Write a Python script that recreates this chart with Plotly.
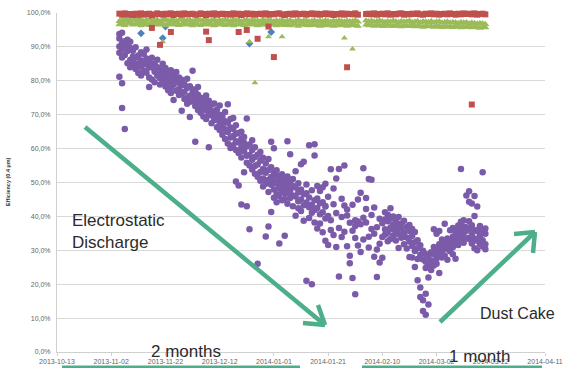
import pandas as pd
import plotly.graph_objects as go

# ---------------- data ----------------
origin = "2013-10-13"
first_day = 23  # days after origin of first daily value (2013-11-05)

red_daily = [
    99.8, 99.5, 99.9, 99.6, 99.7, 99.4, 99.8, 99.6, 99.9, 99.5,
    99.7, 99.8, 99.3, 99.6, 99.9, 99.7, 99.5, 99.8, 99.6, 99.9,
    99.4, 99.7, 99.8, 99.5, 99.9, 99.6, 99.7, 99.8, 99.5, 99.6,
    99.9, 99.7, 99.4, 99.8, 99.6, 99.9, 99.5, 99.7, 99.8, 99.6,
    99.7, 99.5, 99.9, 99.6, 99.8, 99.4, 99.7, 99.9, 99.6, 99.8,
    99.5, 99.7, 99.8, 99.6, 99.9, 99.5, 99.7, 99.6, 99.8, 99.9,
    99.6, 99.4, 99.7, 99.8, 99.5, 99.9, 99.6, 99.7, 99.8, 99.5,
    99.7, 99.9, 99.6, 99.8, 99.5, 99.7, 99.9, 99.6, 99.8, 99.4,
    99.7, 99.6, 99.9, 99.5, 99.8, 99.7, 99.6, 99.9, 99.5, None,
    None, 99.7, 99.8, 99.6, 99.9, 99.5, 99.7, 99.8, 99.6, 99.9,
    99.5, 99.7, 99.6, 99.8, 99.9, 99.5, 99.7, 99.6, 99.8, 99.7,
    99.9, 99.6, 99.5, 99.8, 99.7, 99.9, 99.6, 99.8, 99.5, 99.7,
    99.8, 99.6, 99.9, 99.7, 99.5, 99.8, 99.6, 99.9, 99.7, 99.8,
    99.6, 99.9, 99.5, 99.7, 99.8, 99.6,
]

green_daily_hi = [
    97.6, 98.0, 97.8, 98.2, 97.5, 97.9, 98.1, 97.7, 98.0, 97.6,
    97.9, 98.2, 97.6, 97.8, 98.0, 97.5, 97.9, 98.1, 97.7, 97.8,
    98.0, 97.6, 97.9, 98.2, 97.7, 97.8, 98.0, 97.5, 97.9, 98.1,
    97.7, 97.9, 98.0, 97.6, 97.8, 98.1, 97.5, 97.9, 97.7, 98.0,
    97.8, 97.6, 98.0, 97.7, 97.9, 97.5, 97.8, 98.0, 97.6, 97.9,
    97.7, 97.8, 97.5, 98.0, 97.6, 97.9, 97.7, 97.5, 97.8, 97.6,
    97.9, 97.5, 97.7, 97.8, 97.4, 97.6, 97.9, 97.5, 97.7, 97.8,
    97.5, 97.6, 97.8, 97.4, 97.7, 97.5, 97.8, 97.6, 97.4, 97.7,
    97.5, 97.8, 97.6, 97.4, 97.7, 97.5, 97.6, 97.8, 97.4, None,
    None, 97.8, 97.5, 97.7, 97.4, 97.6, 97.8, 97.5, 97.3, 97.6,
    97.4, 97.7, 97.5, 97.3, 97.6, 97.4, 97.5, 97.7, 97.3, 97.4,
    97.6, 97.2, 97.5, 97.4, 97.3, 97.6, 97.2, 97.4, 97.5, 97.1,
    97.3, 97.4, 97.1, 97.3, 97.2, 97.0, 97.3, 97.1, 97.2, 96.9,
    97.1, 97.0, 96.8, 97.0, 96.9, 96.7,
]

green_daily_lo = [
    96.6, 96.9, 96.4, 96.8, 97.0, 96.5, 96.7, 96.9, 96.3, 96.6,
    96.8, 96.4, 96.7, 96.9, 96.5, 96.6, 96.8, 96.3, 96.7, 96.9,
    96.5, 96.8, 96.4, 96.6, 96.9, 96.5, 96.7, 96.3, 96.8, 96.6,
    96.4, 96.7, 96.9, 96.5, 96.6, 96.3, 96.8, 96.5, 96.7, 96.4,
    96.6, 96.8, 96.3, 96.7, 96.5, 96.9, 96.4, 96.6, 96.8, 96.5,
    96.7, 96.3, 96.6, 96.5, 96.8, 96.4, 96.6, 96.7, 96.3, 96.5,
    96.6, 96.4, 96.7, 96.3, 96.5, 96.6, 96.2, 96.5, 96.7, 96.4,
    96.3, 96.6, 96.4, 96.5, 96.2, 96.6, 96.3, 96.5, 96.4, 96.2,
    96.5, 96.3, 96.4, 96.6, 96.2, 96.4, 96.5, 96.3, 96.2, None,
    None, 96.5, 96.3, 96.4, 96.2, 96.5, 96.3, 96.1, 96.4, 96.2,
    96.3, 96.1, 96.4, 96.2, 96.0, 96.3, 96.2, 96.1, 96.3, 96.0,
    96.2, 96.1, 95.9, 96.2, 96.0, 96.1, 95.9, 96.2, 96.0, 95.8,
    96.1, 95.9, 96.0, 95.8, 96.1, 95.9, 95.7, 96.0, 95.8, 95.9,
    95.7, 95.9, 95.8, 95.6, 95.8, 95.7,
]

# purple readings, one list per day starting at first_day
purple_daily = [
    [92.5, 90.1, 88.3, 81.2, 93.8], [94.2, 89.4, 86.9, 79.3, 72.0, 91.0], [91.7, 87.6, 90.4, 65.8],
    [90.3, 88.8, 85.2, 92.1], [89.7, 86.1, 91.5, 84.0], [88.9, 85.4, 87.2],
    [86.8, 89.9, 83.5, 84.7], [87.5, 85.0, 82.3], [88.4, 84.1, 86.0, 81.6],
    [85.3, 87.9, 83.0], [86.6, 82.4, 84.8, 89.2], [83.9, 81.0, 85.7, 78.2],
    [84.5, 86.8, 80.4], [82.7, 85.1, 79.6, 83.3], [84.0, 81.5, 86.2],
    [80.8, 83.6, 78.9, 82.0], [82.9, 79.7, 85.0], [81.4, 78.3, 83.8, 80.1],
    [79.5, 82.5, 77.2], [80.9, 78.0, 83.1, 76.4], [78.8, 81.7, 74.3, 79.9],
    [80.2, 77.1, 82.6], [77.6, 79.4, 75.8, 81.0], [78.7, 76.2, 71.2, 80.3],
    [76.8, 79.0, 74.6], [77.9, 75.1, 73.2, 80.6], [75.6, 78.4, 69.3, 73.8],
    [76.3, 74.0, 83.0, 77.5], [74.7, 72.6, 76.9, 62.0], [75.9, 73.5, 71.4, 78.2],
    [72.8, 75.0, 70.6], [74.2, 71.9, 73.4, 69.5], [71.3, 73.9, 68.7, 75.7],
    [72.5, 70.2, 74.1, 60.4], [69.8, 72.9, 67.5, 71.1], [70.9, 68.4, 73.3],
    [68.6, 71.5, 66.3, 69.9], [70.0, 67.2, 72.7, 65.5], [66.9, 69.4, 64.1, 68.3],
    [68.1, 65.7, 70.8, 62.8], [64.9, 67.6, 61.5, 73.1], [66.2, 63.3, 68.7, 60.2],
    [63.7, 65.8, 61.0, 69.0], [64.4, 62.2, 50.3, 66.9, 59.6], [61.8, 64.6, 49.1, 58.7],
    [62.9, 60.3, 43.5, 57.4, 65.0], [59.2, 61.7, 53.0, 63.4], [60.6, 57.9, 68.9, 43.0, 55.8],
    [58.1, 61.2, 36.2, 55.0], [56.7, 59.6, 53.8, 62.5], [57.5, 54.9, 60.4, 52.6],
    [55.3, 58.2, 26.0, 51.7], [56.4, 53.1, 59.0, 50.5], [54.0, 57.3, 51.2, 48.8],
    [52.9, 55.6, 34.1, 49.6], [53.7, 50.8, 37.0, 56.9, 47.2], [51.6, 49.3, 62.0, 41.3, 54.5],
    [50.4, 52.8, 60.1, 47.9, 45.5], [49.7, 52.0, 46.6, 53.6, 44.2], [48.4, 51.3, 32.0, 46.0, 50.0],
    [50.9, 47.3, 44.8, 49.2, 52.4], [48.0, 50.6, 34.3, 46.9, 45.1], [49.5, 47.0, 62.2, 51.8, 43.7],
    [47.6, 45.4, 58.3, 50.2, 48.9], [49.0, 46.2, 43.0, 51.0], [45.9, 48.5, 40.2, 53.3],
    [47.1, 44.5, 42.4, 49.8], [45.0, 47.9, 55.4, 41.6], [46.5, 43.3, 56.1, 38.7],
    [44.1, 46.8, 49.4, 21.0], [45.6, 42.7, 61.0, 39.5], [43.4, 47.7, 20.0, 41.1],
    [44.8, 41.9, 58.0, 61.3, 38.2], [42.5, 45.3, 49.0, 36.4], [43.9, 40.6, 47.5, 37.9],
    [41.2, 44.2, 35.3, 48.6], [42.9, 39.4, 49.6, 43.1, 32.8], [40.1, 45.8, 31.6],
    [38.9, 36.0, 53.9], [43.6, 48.2, 34.5], [41.0, 51.2, 31.0],
    [36.6, 54.0, 22.3], [39.8, 45.2, 33.9], [35.5, 43.2, 55.0],
    [40.3, 31.2, 42.0], [38.1, 28.4, 26.2], [35.8, 21.8, 43.4],
    [37.2, 17.0, 38.9, 33.6], [38.5, 31.4, 45.0], [37.7, 47.0, 29.5],
    [33.2, 54.2, 39.6], [38.2, 45.4, 42.2], [34.0, 30.8, 51.0],
    [36.3, 50.8, 40.4], [34.9, 28.1, 42.6], [36.8, 22.1, 30.2],
    [31.9, 26.4, 39.3], [33.9, 38.0, 27.8], [36.2, 39.1, 41.2, 34.6],
    [38.6, 35.2, 32.7, 40.5], [39.4, 36.7, 42.4, 33.3], [37.6, 34.3, 40.0, 36.1],
    [35.9, 38.4, 32.9, 35.0], [37.3, 34.8, 30.7, 39.8], [36.4, 33.7, 37.9],
    [35.2, 38.7, 31.8, 34.1], [33.8, 36.9, 30.5], [35.7, 32.6, 37.5, 28.0],
    [34.2, 31.3, 27.9, 36.3], [32.4, 29.8, 25.1, 35.4], [30.6, 33.0, 21.2, 27.4],
    [28.7, 31.5, 19.0, 16.2], [27.3, 29.9, 15.3, 12.1], [26.6, 24.8, 17.2, 11.0, 28.9],
    [28.2, 25.7, 22.0, 14.0], [26.1, 29.4, 24.2, 27.0], [28.8, 25.5, 31.0, 36.2],
    [30.2, 27.6, 34.9, 26.0], [29.1, 31.8, 23.3, 35.7], [27.9, 30.7, 33.2, 29.6],
    [31.9, 28.5, 37.8, 30.9], [30.4, 33.5, 27.2, 32.1], [32.7, 29.7, 35.9, 31.2],
    [34.0, 30.9, 28.8, 36.6], [32.3, 35.1, 27.5, 33.6], [34.7, 31.6, 37.3, 36.0],
    [36.5, 33.1, 38.4, 54.0, 34.2], [35.3, 32.2, 37.0, 38.9], [33.7, 36.8, 46.2, 35.8],
    [36.1, 33.3, 47.4, 38.6, 44.3], [34.6, 37.4, 43.8, 32.0], [33.5, 36.0, 46.0, 40.1, 30.6],
    [35.6, 32.8, 42.9, 30.0], [34.3, 37.2, 31.7, 36.9], [33.0, 35.9, 53.0, 31.1],
    [31.8, 34.9, 36.4, 30.3],
]

red_out_days = [35, 38, 42, 55, 56, 67, 70, 74, 78, 80, 107, 153]
red_out_vals = [95.6, 90.6, 94.4, 94.5, 92.0, 94.4, 95.0, 92.4, 96.0, 87.0, 84.0, 73.0]

green_out_days = [39, 71, 73, 78, 83, 106, 109]
green_out_vals = [91.5, 91.5, 79.4, 93.0, 93.0, 92.6, 89.4]

blue_days = [24, 26, 30, 31, 39, 40, 71, 79]
blue_vals = [97.5, 98.2, 98.5, 94.0, 92.6, 96.0, 91.0, 94.4]

x_ticks_start = "2013-10-13"
x_range = ["2013-10-13", "2014-04-11"]
y_ticks = [0, 10, 20, 30, 40, 50, 60, 70, 80, 90, 100]
y_tick_labels = ["0,0%", "10,0%", "20,0%", "30,0%", "40,0%", "50,0%",
                 "60,0%", "70,0%", "80,0%", "90,0%", "100,0%"]

# --------------- helpers ---------------
t0 = pd.Timestamp(origin)


def day_to_date(d):
    return t0 + pd.Timedelta(days=d)


daily_dates = [day_to_date(first_day + i) for i in range(len(red_daily))]

px_, py_ = [], []
for i, vals in enumerate(purple_daily):
    for v in vals:
        px_.append(day_to_date(first_day + i))
        py_.append(v)

RED = "#C0504D"
GREEN = "#9BBB59"
BLUE = "#4F81BD"
PURPLE = "#7B5BA9"
ARROW = "#4DAF8A"

fig = go.Figure()
fig.add_trace(go.Scatter(x=[day_to_date(d) for d in blue_days], y=blue_vals, mode="markers",
                         marker=dict(symbol="diamond", size=6, color=BLUE), cliponaxis=False))
fig.add_trace(go.Scatter(x=daily_dates, y=green_daily_hi, mode="markers",
                         marker=dict(symbol="triangle-up", size=7, color=GREEN), cliponaxis=False))
fig.add_trace(go.Scatter(x=daily_dates, y=green_daily_lo, mode="markers",
                         marker=dict(symbol="triangle-up", size=7, color=GREEN), cliponaxis=False))
fig.add_trace(go.Scatter(x=[day_to_date(d) for d in green_out_days], y=green_out_vals, mode="markers",
                         marker=dict(symbol="triangle-up", size=6, color=GREEN), cliponaxis=False))
fig.add_trace(go.Scatter(x=daily_dates, y=red_daily, mode="markers",
                         marker=dict(symbol="square", size=6, color=RED), cliponaxis=False))
fig.add_trace(go.Scatter(x=[day_to_date(d) for d in red_out_days], y=red_out_vals, mode="markers",
                         marker=dict(symbol="square", size=6, color=RED), cliponaxis=False))
fig.add_trace(go.Scatter(x=px_, y=py_, mode="markers",
                         marker=dict(symbol="circle", size=6.5, color=PURPLE), cliponaxis=False))

# plot area in pixels
L, R, T, B = 57, 545, 13, 352
W, H = 565, 368


def P(x, y):
    return (x - L) / (R - L), (B - y) / (B - T)


shapes = []


def seg(x0, y0, x1, y1, w=4):
    a, b = P(x0, y0)
    c, d = P(x1, y1)
    shapes.append(dict(type="line", xref="paper", yref="paper", x0=a, y0=b, x1=c, y1=d,
                       line=dict(color=ARROW, width=w)))


# arrow 1 (down-right)
seg(85, 127, 325, 325, 4.5)
seg(325, 325, 303, 323, 4.5)
seg(325, 325, 318, 305, 4.5)
# arrow 2 (up-right)
seg(440, 322, 535, 232, 4.5)
seg(535, 232, 514, 234, 4.5)
seg(535, 232, 533, 253, 4.5)
# bottom duration lines (cut off)
seg(62, 367, 300, 367, 3)
seg(362, 367, 542, 367, 3)

annotations = []


def text(x, y, s, size, xanchor="left", yanchor="middle", color="#2b2b2b", align="left",
         family="Liberation Sans, Arial"):
    a, b = P(x, y)
    annotations.append(dict(xref="paper", yref="paper", x=a, y=b, text=s, showarrow=False,
                            xanchor=xanchor, yanchor=yanchor, align=align,
                            font=dict(size=size, color=color, family=family)))


text(70, 231, "Electrostatic<br>Discharge", 17, family="Liberation Sans Narrow, Liberation Sans, Arial")
text(557, 313, "Dust Cake", 16, xanchor="right")
text(149, 351, "2 months", 17)
text(447, 356, "1 month", 17)

ya, yb = P(8, 182)
annotations.append(dict(xref="paper", yref="paper", x=ya, y=yb, text="<b>Efficiency (0.4 µm)</b>",
                        showarrow=False, textangle=-90, xanchor="center", yanchor="middle",
                        font=dict(size=5.5, color="#333333", family="Liberation Sans, Arial")))

fig.update_layout(
    width=W, height=H,
    margin=dict(l=L, r=W - R, t=T, b=H - B, autoexpand=False),
    paper_bgcolor="white", plot_bgcolor="white",
    showlegend=False,
    hovermode=False,
    shapes=shapes,
    annotations=annotations,
    font=dict(family="Liberation Sans, Arial", size=7, color="#666666"),
)
fig.update_xaxes(
    type="date", range=x_range, tick0=x_ticks_start, dtick=20 * 86400000,
    tickformat="%Y-%m-%d", showgrid=False, showline=True, linecolor="#d0d0d0",
    ticks="outside", ticklen=3, tickcolor="#d0d0d0", tickfont=dict(size=7, color="#666666"),
    zeroline=False, automargin=False,
)
fig.update_yaxes(
    range=[0, 100], tickmode="array", tickvals=y_ticks, ticktext=y_tick_labels,
    showgrid=True, gridcolor="#d9d9d9", gridwidth=1, showline=True, linecolor="#d0d0d0",
    zeroline=False, tickfont=dict(size=7, color="#666666"), ticks="", ticklabelstandoff=4,
    automargin=False,
)

fig.write_html("out.html", config={"displayModeBar": False},
               post_script="document.body.style.margin='0';")
